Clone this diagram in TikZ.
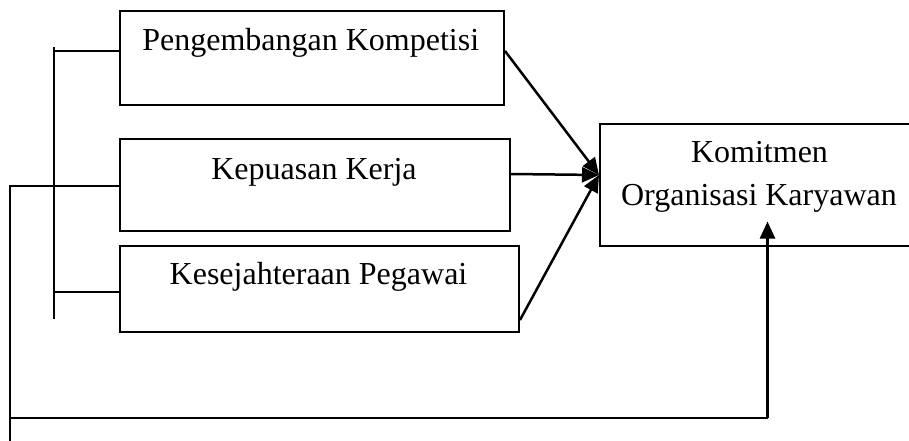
\documentclass[tikz,border=0pt]{standalone}
\usepackage{fontspec}
\setmainfont{Liberation Serif}
\usetikzlibrary{arrows.meta,calc}
\begin{document}
\begin{tikzpicture}[x=1pt,y=-1pt,
  box/.style={draw=black, line width=2pt, inner sep=0pt, anchor=north west, fill=white},
  lbl/.style={anchor=base, inner sep=0pt, font=\fontsize{32}{42}\selectfont},
  ln/.style={draw=black, line width=2pt},
  arr/.style={draw=black, line width=2.5pt, -{Triangle[length=17pt,width=15pt]}}]
\useasboundingbox (0,0) rectangle (909,441);
\clip (0,0) rectangle (909,441);
% boxes
\node[box, minimum width=384.5pt, minimum height=93.5pt] (b1) at (118.5,10.5) {};
\node[box, minimum width=390pt, minimum height=91.5pt] (b2) at (119,138) {};
\node[box, minimum width=399pt, minimum height=85.5pt] (b3) at (119,245) {};
\node[box, minimum width=320pt, minimum height=122pt] (b4) at (599,122.5) {};
% texts
\node[lbl] (t1) at (310.75,51) {Pengembangan Kompetisi};
\node[lbl] (t2) at (314,179.3) {Kepuasan Kerja};
\node[lbl] (t3) at (318.5,284) {Kesejahteraan Pegawai};
\node[lbl] (t4a) at (759.5,162.7) {Komitmen};
\node[lbl] (t4b) at (759,205) {Organisasi Karyawan};
% coordinates
\coordinate (brtop) at (54,47.5);
\coordinate (brbot) at (54,319);
\coordinate (b1l) at ($(b1.north west)+(0,40.5)$);
\coordinate (b2l) at ($(b2.north west)+(0,47.5)$);
\coordinate (b3l) at ($(b3.north west)+(0,47)$);
\coordinate (outbot) at (10,445);
\coordinate (fb) at (767.5,417.7);
\coordinate (b4in) at ($(b4.south west)+(168.5,-25)$);
\coordinate (hub) at ($(b4.north west)+(0,52.5)$);
\coordinate (b1r) at ($(b1.north east)+(0,40.5)$);
\coordinate (b2r) at ($(b2.north east)+(0,36)$);
\coordinate (b3r) at ($(b3.south east)+(0,-12.5)$);
% left bracket
\draw[ln] (brtop) -- (brbot);
\draw[ln] (b1l) -- (b1l -| brtop);
\draw[ln] (b3l) -- (b3l -| brtop);
% outer feedback line
\draw[ln] (b2l) -- (b2l -| outbot) -- (outbot);
\draw[ln] (outbot |- fb) -- (fb);
\draw[arr] (fb) -- (b4in);
% arrows into b4
\draw[arr] (b1r) -- (hub);
\draw[arr] (b2r) -- (hub);
\draw[arr] (b3r) -- (hub);
\end{tikzpicture}
\end{document}
